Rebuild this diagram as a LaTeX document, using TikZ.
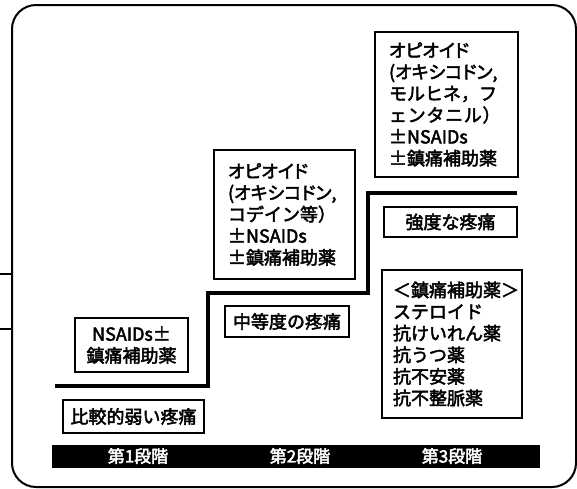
\documentclass[tikz,border=0pt]{standalone}
\usepackage{fontspec}
\newfontfamily\jp{Noto Sans CJK JP}[FakeBold=2.6]
\newfontfamily\jpp{Noto Sans CJK JP}[FakeBold=2.6,RawFeature=+palt]
\newfontfamily\jpw{Noto Sans CJK JP}[FakeBold=2.6,LetterSpace=4]
\begin{document}
\begin{tikzpicture}[x=1pt,y=-1pt,
  box/.style={draw, line width=1.4pt, inner sep=0pt, font=\jp\fontsize{18pt}{21.6pt}\selectfont},
  stagebar/.style={fill=black, draw=black},
  barlabel/.style={text=white, inner sep=0pt, font=\jp\fontsize{17pt}{18pt}\selectfont},
  stepline/.style={line width=3.4pt, line join=miter},
  frame/.style={line width=2pt, rounded corners=24pt}]
\useasboundingbox (0,0) rectangle (577,488);
% outer frame and stubs
\draw[frame] (12,5) rectangle (576,487);
\coordinate (s1a) at (0,274); \coordinate (s1b) at (12,274);
\coordinate (s2a) at (0,329); \coordinate (s2b) at (12,329);
\draw[line width=1.6pt] (s1a) -- (s1b);
\draw[line width=1.6pt] (s2a) -- (s2b);
% staircase
\draw[stepline] (55,386) -- (208,386) -- (208,293) -- (368,293) -- (368,193) -- (517,193);
% stage 3 opioid box
\node[box, minimum width=143pt, minimum height=145pt, text width=115pt, align=left] (op3) at (446.5,104.5)
  {\jpp オピオイド\\(オキシコドン,\\\jp モルヒネ，フ\\\jpw ェンタニル）\\\jp ±NSAIDs\\±鎮痛補助薬};
% stage 2 opioid box
\node[box, minimum width=141pt, minimum height=129pt, text width=113pt, align=left] (op2) at (284.5,214.5)
  {\jpp オピオイド\\(オキシコドン,\\\jp コデイン等）\\±NSAIDs\\±鎮痛補助薬};
% stage 1 box
\node[box, minimum width=113pt, minimum height=54pt, align=center] (ns1) at (131.5,345)
  {NSAIDs±\\鎮痛補助薬};
% pain labels
\node[box, minimum width=141pt, minimum height=33pt] (p1) at (133.5,416.5) {比較的弱い疼痛};
\node[box, minimum width=124pt, minimum height=31pt] (p2) at (287,321.5) {中等度の疼痛};
\node[box, minimum width=133pt, minimum height=30pt] (p3) at (450.5,222) {強度な疼痛};
% adjuvant box
\node[box, minimum width=140pt, minimum height=148pt, text width=118pt, align=left] (adj) at (452,344)
  {＜鎮痛補助薬＞\\ステロイド\\抗けいれん薬\\抗うつ薬\\抗不安薬\\抗不整脈薬};
% stage bar
\draw[stagebar] (52,445) rectangle (539,467);
\node[barlabel] (b1) at (138,456) {第1段階};
\node[barlabel] (b2) at (300,456) {第2段階};
\node[barlabel] (b3) at (452,456) {第3段階};
\end{tikzpicture}
\end{document}
